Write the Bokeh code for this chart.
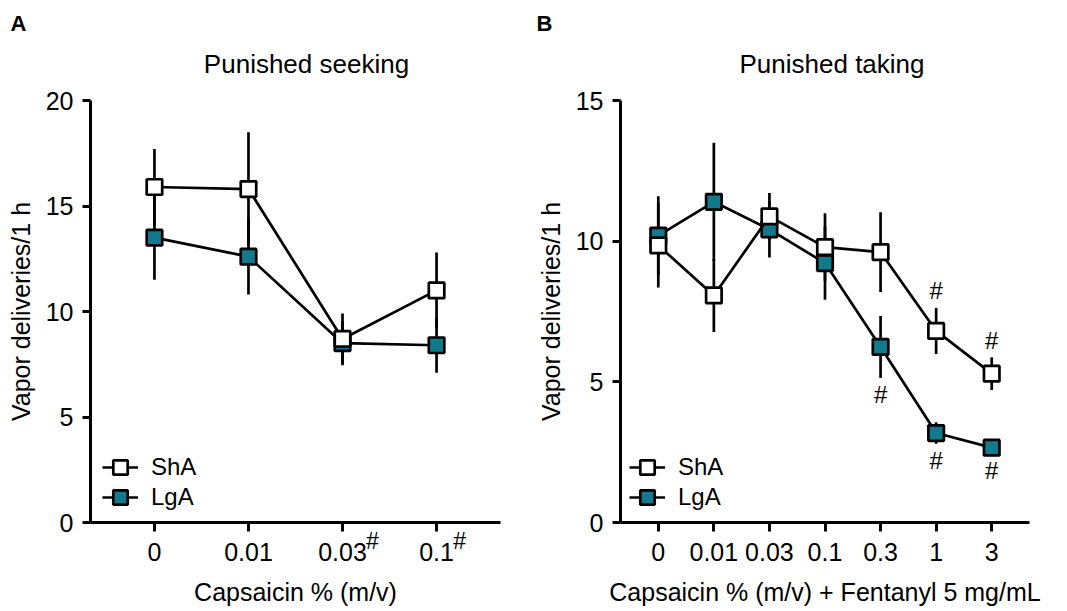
from bokeh.plotting import figure
from bokeh.models import (ColumnDataSource, Range1d, FixedTicker, Label, Legend, LegendItem)
from bokeh.layouts import row
from bokeh.embed import file_html
from bokeh.resources import INLINE

# ---------------- data ----------------
cats_a = ["0", "0.01", "0.03", "0.1"]
sha_a = [15.9, 15.8, 8.7, 11.0]
sha_a_err = [1.8, 2.7, 1.2, 1.8]
lga_a = [13.5, 12.6, 8.5, 8.4]
lga_a_err = [2.0, 1.8, 1.05, 1.3]
sig_a = ["0.03", "0.1"]          # categories marked with # (tick superscript)

cats_b = ["0", "0.01", "0.03", "0.1", "0.3", "1", "3"]
sha_b = [9.85, 8.07, 10.88, 9.79, 9.61, 6.81, 5.29]
sha_b_err = [1.5, 1.3, 0.83, 1.2, 1.42, 0.82, 0.58]
lga_b = [10.2, 11.4, 10.42, 9.22, 6.24, 3.18, 2.66]
lga_b_err = [1.4, 2.1, 1.0, 1.3, 1.1, 0.38, 0.2]
sig_b_sha = ["1", "3"]            # # above ShA
sig_b_lga = ["0.3", "1", "3"]     # # below LgA

TEAL = "#127a8d"
FONT = "Liberation Sans"
LW = 2.7


def make_panel(cats, sha, sha_err, lga, lga_err, ymax, yticks, title, letter,
               xlabel, width, left, right, title_dx, letter_dx, legend_x):
    xmin, xmax = -0.68, len(cats) - 1 + 0.68
    p = figure(width=width, height=611, output_backend="svg", toolbar_location=None,
               x_range=Range1d(xmin, xmax), y_range=Range1d(0, ymax),
               min_border_left=left, min_border_right=right,
               min_border_top=100, min_border_bottom=89)
    p.outline_line_color = None
    p.xgrid.visible = False
    p.ygrid.visible = False
    xs = list(range(len(cats)))

    def src(vals, errs):
        return ColumnDataSource(dict(x=xs, y=vals,
                                     lo=[v - e for v, e in zip(vals, errs)],
                                     hi=[v + e for v, e in zip(vals, errs)]))

    s_sha = src(sha, sha_err)
    s_lga = src(lga, lga_err)

    for s in (s_lga, s_sha):
        p.segment(x0="x", y0="lo", x1="x", y1="hi", source=s, line_color="black",
                  line_width=LW)
    l_lga = p.line("x", "y", source=s_lga, line_color="black", line_width=LW)
    m_lga = p.scatter("x", "y", source=s_lga, marker="square", size=15.5,
                      fill_color=TEAL, line_color="black", line_width=LW)
    l_sha = p.line("x", "y", source=s_sha, line_color="black", line_width=LW)
    m_sha = p.scatter("x", "y", source=s_sha, marker="square", size=15.5,
                      fill_color="white", line_color="black", line_width=LW)

    p.xaxis.ticker = FixedTicker(ticks=xs)
    p.xaxis.major_label_overrides = {i: c for i, c in enumerate(cats)}
    p.yaxis.ticker = FixedTicker(ticks=yticks)
    for ax in (p.xaxis[0], p.yaxis[0]):
        ax.axis_line_width = 3
        ax.axis_line_color = "black"
        ax.major_tick_line_width = 3
        ax.major_tick_line_color = "black"
        ax.major_tick_in = 0
        ax.minor_tick_line_color = None
        ax.major_label_text_font = FONT
        ax.major_label_text_font_size = "25px"
        ax.major_label_text_color = "black"
        ax.axis_label_text_font = FONT
        ax.axis_label_text_font_size = "25px"
        ax.axis_label_text_font_style = "normal"
        ax.axis_label_text_color = "black"
    p.xaxis.major_tick_out = 9
    p.yaxis.major_tick_out = 8
    p.xaxis.major_label_standoff = 11
    p.yaxis.major_label_standoff = 9
    p.xaxis.axis_label = xlabel
    p.xaxis.axis_label_standoff = 14
    p.yaxis.axis_label = "Vapor deliveries/1 h"
    p.yaxis.axis_label_standoff = 8

    # title and panel letter: labels kept in the top side panel (not clipped)
    p.add_layout(Label(x=(xmin + xmax) / 2, y=ymax, x_units="data", y_units="data",
                       x_offset=title_dx, y_offset=37, text=title, text_font=FONT,
                       text_font_size="26px", text_align="center",
                       text_baseline="alphabetic", text_color="black"), "above")
    p.add_layout(Label(x=xmin, y=ymax, x_units="data", y_units="data",
                       x_offset=letter_dx, y_offset=77, text=letter, text_font=FONT,
                       text_font_size="22px", text_font_style="bold", text_align="left",
                       text_baseline="alphabetic", text_color="black"), "above")

    common = dict(padding=0, margin=0, spacing=0, glyph_width=36, glyph_height=38,
                  label_height=38, label_standoff=13, border_line_color=None,
                  background_fill_alpha=0, label_text_font=FONT,
                  label_text_font_size="24px", label_text_color="black")
    p.add_layout(Legend(items=[LegendItem(label="ShA", renderers=[l_sha, m_sha])],
                        location=(legend_x, 36), **common))
    p.add_layout(Legend(items=[LegendItem(label="LgA", renderers=[l_lga, m_lga])],
                        location=(legend_x, 6), **common))
    return p


pa = make_panel(cats_a, sha_a, sha_a_err, lga_a, lga_a_err, 20, [0, 5, 10, 15, 20],
                "Punished seeking", "A", "Capsaicin % (m/v)", 533, 90, 33, 11, -80, 12)
# superscript # after the 0.03 and 0.1 tick labels (in the right side panel so that it
# is not clipped to the plot frame; positioned with data coordinates)
for c in sig_a:
    i = cats_a.index(c)
    off = 30 if len(c) > 3 else 23
    pa.add_layout(Label(x=i, y=0, x_units="data", y_units="data", x_offset=off,
                        y_offset=-18, text="#", text_font=FONT, text_font_size="23px",
                        text_align="center", text_baseline="middle",
                        text_color="black"), "right")

pb = make_panel(cats_b, sha_b, sha_b_err, lga_b, lga_b_err, 15, [0, 5, 10, 15],
                "Punished taking", "B", "Capsaicin % (m/v) + Fentanyl 5 mg/mL",
                534, 85, 38, 7, -84, 9)
for c in sig_b_sha:
    i = cats_b.index(c)
    pb.add_layout(Label(x=i, y=sha_b[i] + sha_b_err[i], x_units="data", y_units="data",
                        y_offset=17, text="#", text_font=FONT, text_font_size="24px",
                        text_align="center", text_baseline="middle", text_color="black"))
for c in sig_b_lga:
    i = cats_b.index(c)
    pb.add_layout(Label(x=i, y=lga_b[i] - lga_b_err[i], x_units="data", y_units="data",
                        y_offset=-17, text="#", text_font=FONT, text_font_size="24px",
                        text_align="center", text_baseline="middle", text_color="black"))

layout = row(pa, pb)
open("out.html", "w").write(file_html(layout, INLINE))
